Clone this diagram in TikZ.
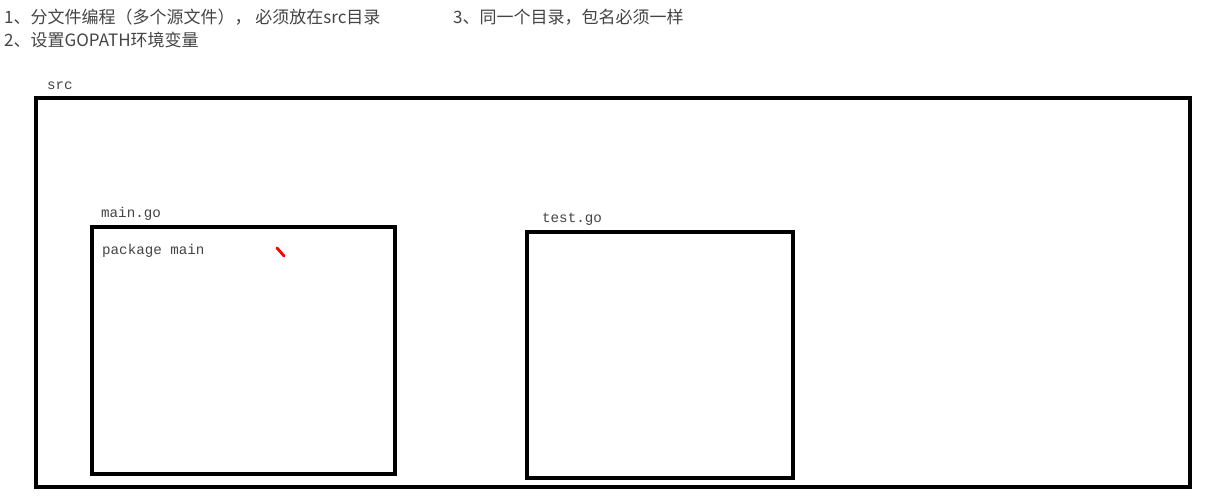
\documentclass[tikz,border=0pt]{standalone}
\usepackage{fontspec}
\setmonofont{Liberation Mono}
\newfontfamily\cjk{Noto Sans CJK SC}
\usepackage{xcolor}
\usetikzlibrary{positioning}

\definecolor{inkgray}{HTML}{444444}

\begin{document}
\begin{tikzpicture}[x=1pt, y=-1pt,
    every node/.style={inner sep=0pt, text=inkgray},
    note/.style={anchor=west, font=\cjk\fontsize{17}{19}\selectfont},
    filelabel/.style={anchor=west, font=\ttfamily\fontsize{14.2}{16}\selectfont},
    folder/.style={draw=black, line width=3.2pt}]
    \useasboundingbox[fill=white] (0,0) rectangle (1205,498);

    % notes at the top
    \node[note] (note1) at (4,17) {1、分文件编程（多个源文件）， 必须放在src目录};
    \node[note] (note2) at (4,40) {2、设置GOPATH环境变量};
    \node[note] (note3) at (453,17) {3、同一个目录，包名必须一样};

    % src directory
    \draw[folder] (36,98) rectangle (1190,487);
    \node[filelabel] (src) at (47,86) {src};

    % source files
    \draw[folder] (92,227) rectangle (395,474);
    \node[filelabel] (maingo) at (101,214) {main.go};
    \node[filelabel] (pkgmain) at (102,251) {package main};

    \draw[folder] (527,232) rectangle (793,478);
    \node[filelabel] (testgo) at (542,219) {test.go};

    % pen mark
    \draw[red, line width=2.8pt, line cap=round] (277,248) -- (284,256);
\end{tikzpicture}
\end{document}
